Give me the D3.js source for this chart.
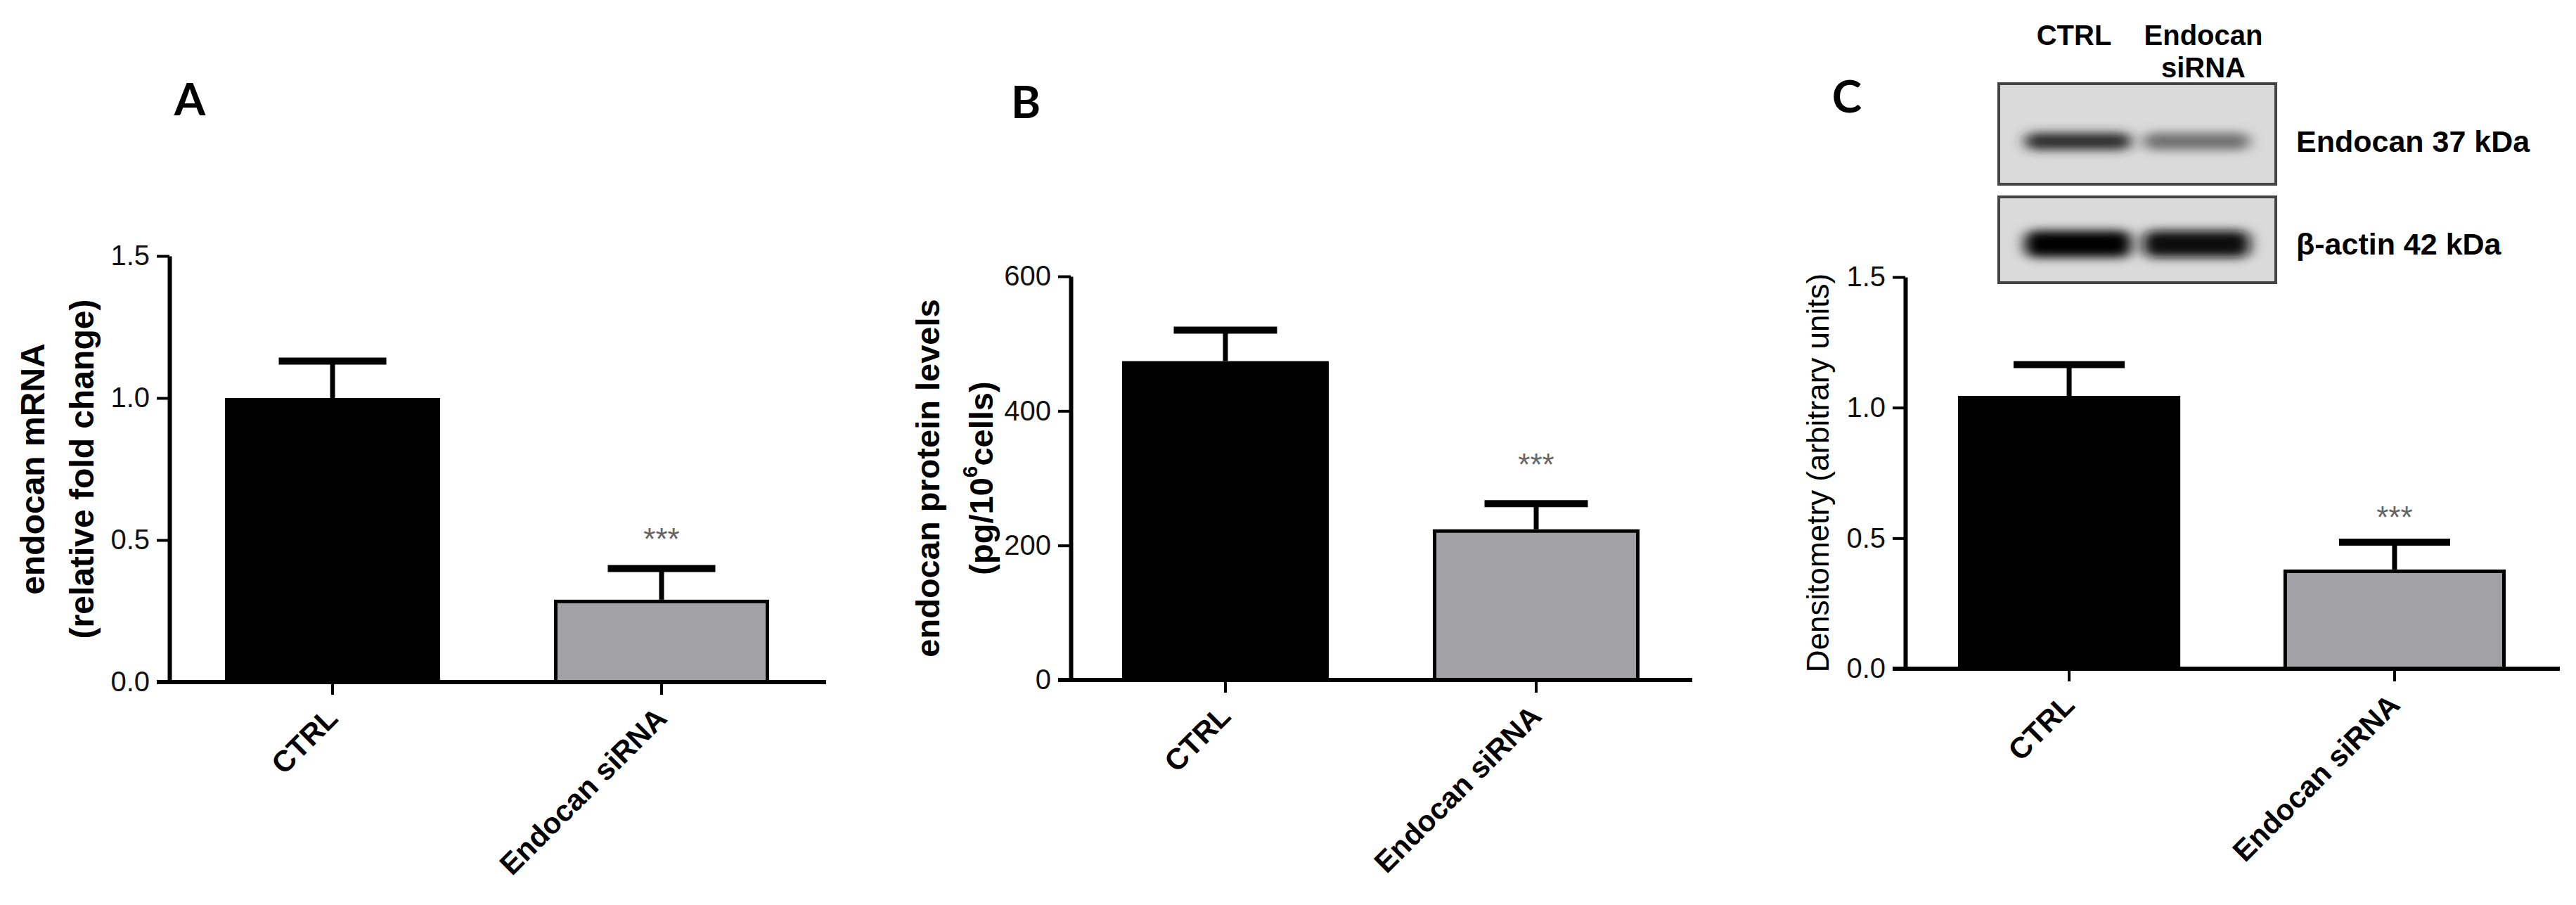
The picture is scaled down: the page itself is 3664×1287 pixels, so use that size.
<!DOCTYPE html>
<html>
<head>
<meta charset="utf-8">
<script src="https://cdn.jsdelivr.net/npm/d3@7"></script>
<style>
  body { margin: 0; background: #fff; }
  text { font-family: "Liberation Sans", Arial, sans-serif; }
</style>
</head>
<body>
<div id="chart"></div>
<script>
let width = 3664,
  height = 1287;

// data
const groups = ["CTRL", "Endocan siRNA"];
const mrnaMean = [1.00, 0.29];
const mrnaSem = [0.13, 0.11];
const proteinMean = [474, 224];
const proteinSem = [46, 38];
const densMean = [1.045, 0.38];
const densSem = [0.12, 0.105];
const foldTicks = [0, 0.5, 1.0, 1.5];
const proteinTicks = [0, 200, 400, 600];
const sigMarks = ["", "***"];
const barFills = ["#000000", "#a2a2a6"];

// western blot inset
const blotLanes = [["CTRL"], ["Endocan", "siRNA"]];
const blotRows = ["Endocan 37 kDa", "\u03b2-actin 42 kDa"];
const bandDensity = [[0.82, 0.5], [1.0, 0.97]];

let svg = d3.select("#chart")
  .append("svg")
  .attr("width", width)
  .attr("height", height);

svg.append("rect").attr("width", width).attr("height", height).attr("fill", "#fff");

let defs = svg.append("defs");
defs.append("filter").attr("id", "blur")
  .attr("x", "-30%").attr("y", "-100%").attr("width", "160%").attr("height", "300%")
  .append("feGaussianBlur").attr("stdDeviation", "10 7");

let panels = [
  { letter: "A", lx: 270, ly: 164, axisX: 241, x0: 320, x1: 1094, pad: 0.346, xEnd: 1175,
    y0: 970, yTop: 364, domain: [0, 1.5], ticks: foldTicks, fmt: d3.format(".1f"),
    mean: mrnaMean, sem: mrnaSem, starGap: 52,
    title: [["endocan mRNA"], ["(relative fold change)"]], tx: [46, 116], tsize: 48, tweight: "bold" },
  { letter: "B", lx: 1459, ly: 168, axisX: 1523, x0: 1596, x1: 2332, pad: 0.335, xEnd: 2407,
    y0: 967, yTop: 393, domain: [0, 600], ticks: proteinTicks, fmt: d3.format("d"),
    mean: proteinMean, sem: proteinSem, starGap: 66,
    title: [["endocan protein levels"], ["(pg/10", "6", "cells)"]], tx: [1319, 1395], tsize: 47, tweight: "bold" },
  { letter: "C", lx: 2627, ly: 160, axisX: 2710, x0: 2785, x1: 3564, pad: 0.317, xEnd: 3641,
    y0: 951, yTop: 394, domain: [0, 1.5], ticks: foldTicks, fmt: d3.format(".1f"),
    mean: densMean, sem: densSem, starGap: 46,
    title: [["Densitometry (arbitrary units)"]], tx: [2585], tsize: 44, tweight: "normal" }
];

panels.forEach(p => buildPanel(p));
buildBlot();

function buildPanel(p) {
  let g = svg.append("g");

  let x = d3.scaleBand()
    .domain(groups)
    .range([p.x0, p.x1])
    .paddingInner(p.pad);

  let y = d3.scaleLinear()
    .domain(p.domain)
    .range([p.y0, p.yTop]);

  let rows = groups.map((d, i) => ({ group: d, mean: p.mean[i], sem: p.sem[i], i: i }));
  let cx = d => x(d.group) + x.bandwidth() / 2;

  // bars
  g.selectAll(".bar")
    .data(rows)
    .join("rect")
    .attr("x", d => x(d.group) + (d.i ? 2.5 : 0))
    .attr("width", d => x.bandwidth() - (d.i ? 5 : 0))
    .attr("y", d => y(d.mean) + (d.i ? 2.5 : 0))
    .attr("height", d => y(0) - y(d.mean) - (d.i ? 2.5 : 0))
    .attr("fill", d => barFills[d.i])
    .attr("stroke", d => d.i ? "#000" : "none")
    .attr("stroke-width", 5);

  // error bars (upper only)
  let capW = x.bandwidth() * 0.5;
  let eb = g.selectAll(".err")
    .data(rows)
    .join("g")
    .attr("stroke", "#000");
  eb.append("line")
    .attr("x1", cx).attr("x2", cx)
    .attr("y1", d => y(d.mean))
    .attr("y2", d => y(d.mean + d.sem))
    .attr("stroke-width", 7);
  eb.append("line")
    .attr("x1", d => cx(d) - capW / 2)
    .attr("x2", d => cx(d) + capW / 2)
    .attr("y1", d => y(d.mean + d.sem))
    .attr("y2", d => y(d.mean + d.sem))
    .attr("stroke-width", 10);

  // significance stars
  g.selectAll(".sig")
    .data(rows)
    .join("text")
    .attr("x", cx)
    .attr("y", d => y(d.mean + d.sem) - p.starGap + 26)
    .attr("text-anchor", "middle")
    .attr("fill", "#666")
    .style("font-size", "44px")
    .text(d => sigMarks[d.i]);

  // y axis
  let yAxis = g.append("g")
    .attr("transform", `translate(${p.axisX},0)`)
    .call(d3.axisLeft(y).tickValues(p.ticks).tickFormat(p.fmt).tickSize(18).tickSizeOuter(0).tickPadding(10));
  yAxis.select(".domain").attr("stroke-width", 6);
  yAxis.selectAll(".tick line").attr("stroke-width", 4);
  yAxis.selectAll(".tick text")
    .attr("fill", "#111")
    .style("font-size", "40px");

  // x axis: baseline plus downward ticks
  g.append("line")
    .attr("x1", p.axisX - 18).attr("x2", p.xEnd)
    .attr("y1", p.y0).attr("y2", p.y0)
    .attr("stroke", "#000").attr("stroke-width", 6);

  let xAxis = g.append("g")
    .attr("transform", `translate(0,${p.y0})`)
    .call(d3.axisBottom(x).tickSize(18).tickSizeOuter(0).tickFormat(""));
  xAxis.select(".domain").remove();
  xAxis.selectAll(".tick line").attr("stroke-width", 4);

  g.selectAll(".xlab")
    .data(groups)
    .join("text")
    .attr("transform", d => `translate(${x(d) + x.bandwidth() / 2 + 10},${p.y0 + 54}) rotate(-45)`)
    .attr("text-anchor", "end")
    .style("font-size", "42px")
    .style("font-weight", "bold")
    .text(d => d);

  // y title, centred on the axis
  let ty = (p.y0 + p.yTop) / 2;
  p.title.forEach((parts, k) => {
    let tt = g.append("text")
      .attr("transform", `translate(${p.tx[k]},${ty}) rotate(-90)`)
      .attr("text-anchor", "middle")
      .attr("dominant-baseline", "central")
      .style("font-size", p.tsize + "px")
      .style("font-weight", p.tweight);
    if (parts.length === 1) {
      tt.text(parts[0]);
    } else {
      tt.append("tspan").text(parts[0]);
      tt.append("tspan").attr("dy", -16).style("font-size", "30px").text(parts[1]);
      tt.append("tspan").attr("dy", 16).text(parts[2]);
    }
  });

  // panel letter
  g.append("text")
    .attr("x", p.lx)
    .attr("y", p.ly)
    .attr("text-anchor", "middle")
    .style("font-family", "Lato, 'Open Sans', sans-serif")
    .style("font-size", "64px")
    .style("font-weight", "bold")
    .text(p.letter);
}

function buildBlot() {
  let g = svg.append("g");
  let left = 2843, right = 3237;
  let bx = d3.scaleBand().domain(d3.range(blotLanes.length)).range([left, right]).paddingInner(0.1).paddingOuter(0.22);
  let boxes = [{ y: 119, h: 143, band: 201, bh: 24 }, { y: 280, h: 122, band: 347, bh: 38 }];
  let shade = d3.scaleLinear().domain([0, 1]).range(["#d6d6d6", "#050505"]);

  boxes.forEach((b, r) => {
    g.append("rect")
      .attr("x", left).attr("y", b.y)
      .attr("width", right - left).attr("height", b.h)
      .attr("fill", "#dadada")
      .attr("stroke", "#444").attr("stroke-width", 4);

    g.selectAll(null)
      .data(bandDensity[r])
      .join("rect")
      .attr("x", (d, i) => bx(i))
      .attr("width", bx.bandwidth())
      .attr("y", b.band - b.bh / 2)
      .attr("height", b.bh)
      .attr("rx", 14)
      .attr("fill", d => shade(d))
      .attr("filter", "url(#blur)");

    g.append("text")
      .attr("x", 3266)
      .attr("y", b.band + 15)
      .style("font-size", "43px")
      .style("font-weight", "bold")
      .text(blotRows[r]);
  });

  let laneX = [2950, 3134];
  blotLanes.forEach((lines, i) => {
    lines.forEach((t, k) => {
      g.append("text")
        .attr("x", laneX[i])
        .attr("y", 64 + k * 46)
        .attr("text-anchor", "middle")
        .style("font-size", "40px")
        .style("font-weight", "bold")
        .text(t);
    });
  });
}
</script>
</body>
</html>
